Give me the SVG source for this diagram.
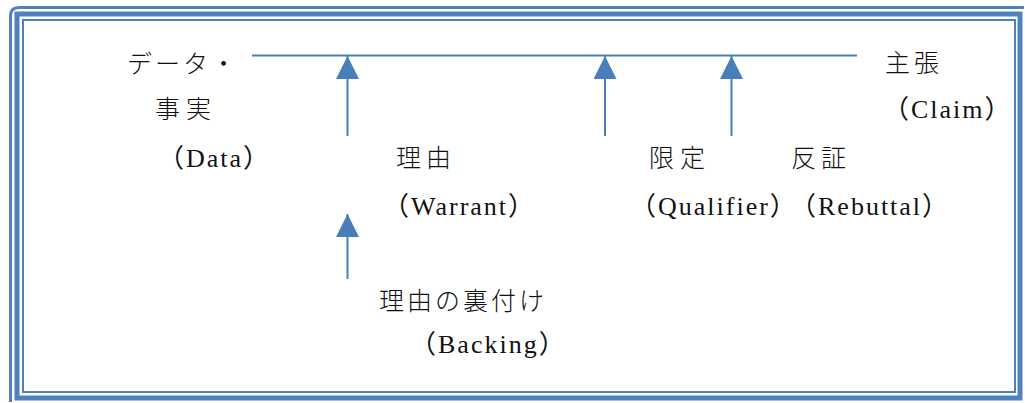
<svg xmlns="http://www.w3.org/2000/svg" width="1025" height="403" viewBox="0 0 1025 403">
<style>
.frame{fill:none;stroke:#4F81BD}
.jp{font-family:"Noto Sans CJK JP",sans-serif;font-size:25px;font-weight:300;fill:#111}
.en{font-family:"Liberation Serif","Noto Sans CJK JP",serif;font-size:26px;letter-spacing:2px;fill:#111}
.conn{stroke:#4A7EBB;stroke-width:2;fill:none}
</style>
<defs>
<marker id="ah" markerUnits="userSpaceOnUse" viewBox="0 0 23 23" refX="23" refY="11.5" markerWidth="23" markerHeight="23" orient="auto">
<path d="M0,0 L23,11.5 L0,23 z" fill="#4A7EBB"/>
</marker>
</defs>
<rect width="1025" height="403" fill="#fff"/>
<g id="frame">
<path class="frame" stroke-width="3" d="M10.5,402 V16 Q10.5,7.5 19,7.5 H1024"/>
<rect class="frame" stroke-width="5" x="17" y="14" width="1003" height="384"/>
<rect class="frame" stroke-width="2" x="23" y="20" width="992" height="372"/>
</g>
<g id="connectors">
<line class="conn" x1="252" y1="55.5" x2="857" y2="55.5"/>
<line class="conn" x1="347.5" y1="136" x2="347.5" y2="56" marker-end="url(#ah)"/>
<line class="conn" x1="605" y1="136" x2="605" y2="56" marker-end="url(#ah)"/>
<line class="conn" x1="731.5" y1="136" x2="731.5" y2="56" marker-end="url(#ah)"/>
<line class="conn" x1="347.5" y1="279" x2="347.5" y2="214" marker-end="url(#ah)"/>
</g>
<g id="data">
<text class="jp" x="127" y="73" letter-spacing="3">データ・</text>
<text class="jp" x="155" y="118" letter-spacing="6">事実</text>
<text class="en" x="158" y="167">（Data）</text>
</g>
<g id="claim">
<text class="jp" x="885" y="72" letter-spacing="4">主張</text>
<text class="en" x="883" y="118">（Claim）</text>
</g>
<g id="warrant">
<text class="jp" x="396" y="167" letter-spacing="5">理由</text>
<text class="en" x="383" y="215">（Warrant）</text>
</g>
<g id="qualifier">
<text class="jp" x="649" y="167" letter-spacing="6">限定</text>
<text class="en" x="630" y="215">（Qualifier）</text>
</g>
<g id="rebuttal">
<text class="jp" x="791" y="167" letter-spacing="5">反証</text>
<text class="en" x="790" y="215">（Rebuttal）</text>
</g>
<g id="backing">
<text class="jp" x="379" y="310" letter-spacing="3">理由の裏付け</text>
<text class="en" x="410" y="353">（Backing）</text>
</g>
</svg>
